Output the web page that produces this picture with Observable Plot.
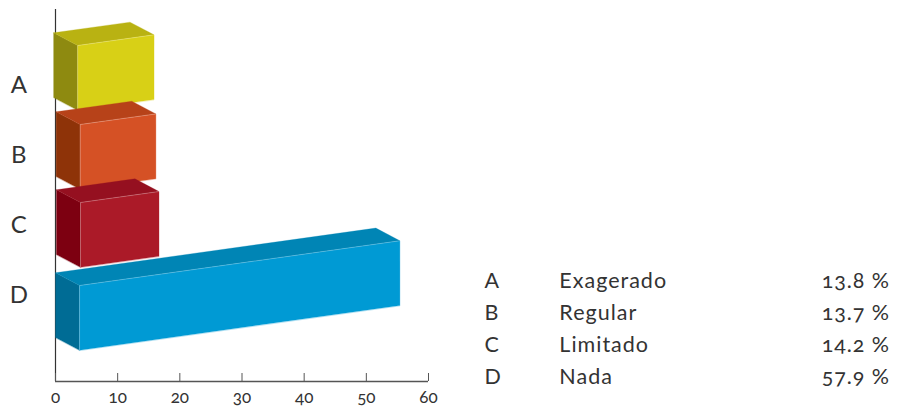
<!DOCTYPE html>
<html>
<head>
<meta charset="utf-8">
<script src="https://cdn.jsdelivr.net/npm/d3@7"></script>
<script src="https://cdn.jsdelivr.net/npm/@observablehq/plot@0.6"></script>
<style>
html,body{margin:0;padding:0;background:#fff}
svg{display:block;font-feature-settings:"onum" 1;font-variant-numeric:oldstyle-nums}
</style>
</head>
<body>
<div id="chart"></div>
<script>
const categories = ["A", "B", "C", "D"];
const labels = ["Exagerado", "Regular", "Limitado", "Nada"];
const percents = ["13.8 %", "13.7 %", "14.2 %", "57.9 %"];
const barStart = [-0.3, 0.1, 0.15, 0];
const barEnd = [15.85, 16.15, 16.65, 55.4];
const barBase = [284, 205, 127, 44];
const categoryY = [296, 226, 156, 86];
const legendY = [100, 68, 36, 4];
const xTicks = [0, 10, 20, 30, 40, 50, 60];
const frontColors = ["#d8d016", "#d55125", "#ab1a28", "#009ad4"];
const sideColors = ["#8e8a10", "#8e3308", "#7d0011", "#006c95"];
const topColors = ["#b9b212", "#b74219", "#951020", "#0085b5"];

const depthX = 3.87, depthY = 12.7, barH = 64.7, slope = 0.868;
const legendX = [69.0, 81.05, 134.2];

const face = (pts, fill) => Plot.line(pts, {x: "x", y: "y", fill, stroke: fill, strokeWidth: 0.3, curve: "linear-closed"});
const edge = (pts) => Plot.line(pts, {x: "x", y: "y", stroke: "#fff", strokeOpacity: 0.35, strokeWidth: 0.7});

const barMarks = categories.flatMap((c, i) => {
  const x0 = barStart[i], xE = barEnd[i], b = barBase[i];
  const x1 = x0 + depthX;
  const rise = slope * (xE - x1);
  const sideBL = {x: x0, y: b}, sideTL = {x: x0, y: b + barH};
  const frontBL = {x: x1, y: b - depthY}, frontTL = {x: x1, y: b - depthY + barH};
  const frontBR = {x: xE, y: b - depthY + rise}, frontTR = {x: xE, y: b - depthY + barH + rise};
  const backTR = {x: xE - depthX, y: b + barH + rise};
  return [
    face([sideBL, sideTL, frontTL, frontBL], sideColors[i]),
    face([sideTL, backTR, frontTR, frontTL], topColors[i]),
    face([frontBL, frontTL, frontTR, frontBR], frontColors[i]),
    edge([frontBL, frontTL, frontTR])
  ];
});

const legendRows = categories.map((c, i) => ({c, label: labels[i], pct: percents[i], y: legendY[i]}));
const catRows = categories.map((c, i) => ({c, y: categoryY[i]}));
const textFill = "#333";
const legendText = {fontSize: 21.5, fill: textFill};

const chart = Plot.plot({
  width: 897,
  height: 406,
  marginLeft: 55,
  marginRight: 469,
  marginTop: 9,
  marginBottom: 25,
  style: {fontFamily: "Lato, 'Open Sans', sans-serif", background: "#fff", overflow: "visible"},
  x: {domain: [0, 60], axis: null},
  y: {domain: [0, 372], axis: null},
  marks: [
    Plot.ruleX([0], {stroke: "#333", strokeWidth: 1.2}),
    Plot.ruleY([0], {stroke: "#555", strokeWidth: 1.3}),
    Plot.axisX({ticks: xTicks, tickSize: -8, tickPadding: 17.5, stroke: "#555", fill: textFill, fontSize: 17, label: null, tickFormat: d => String(d), anchor: "bottom"}),
    ...barMarks,
    Plot.text(catRows, {text: "c", x: -5.9, y: "y", fontSize: 24, fill: textFill, textAnchor: "middle"}),
    Plot.text(legendRows, {text: "c", x: legendX[0], y: "y", textAnchor: "start", ...legendText}),
    Plot.text(legendRows, {text: "label", x: legendX[1], y: "y", textAnchor: "start", ...legendText}),
    Plot.text(legendRows, {text: "pct", x: legendX[2], y: "y", textAnchor: "end", ...legendText})
  ]
});
d3.select(chart).selectAll("text").each(function () {
  const t = this.textContent;
  if (labels.includes(t)) this.setAttribute("letter-spacing", "1px");
  if (percents.includes(t)) this.setAttribute("letter-spacing", "0.9px");
});
document.getElementById("chart").append(chart);
</script>
</body>
</html>
